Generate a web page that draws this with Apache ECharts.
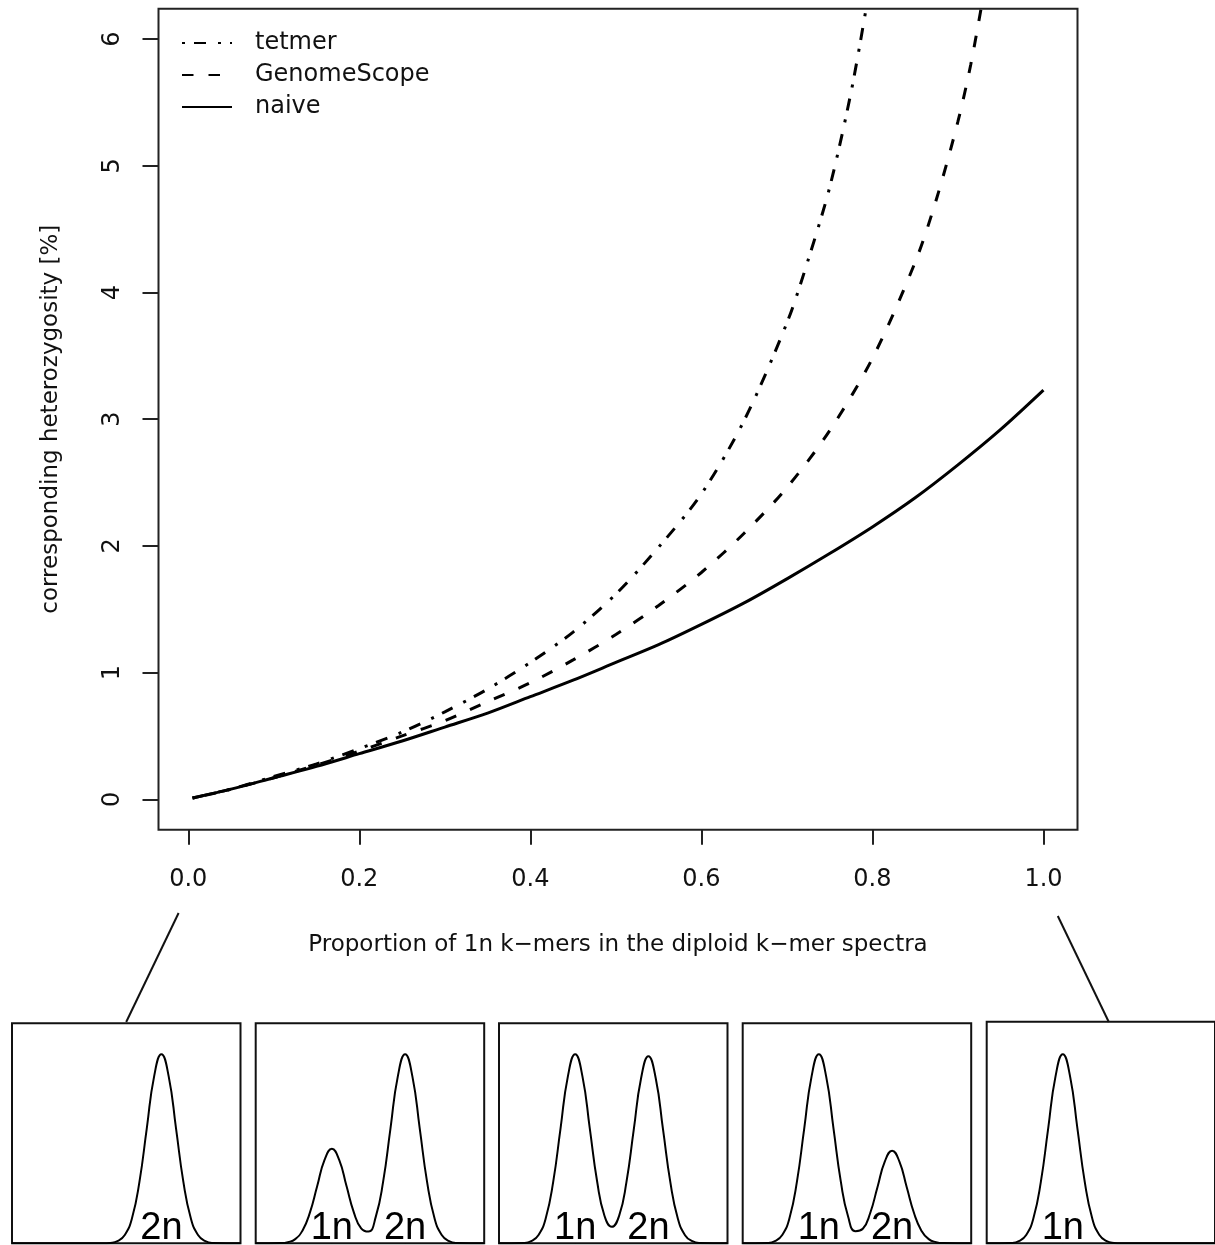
<!DOCTYPE html>
<html>
<head>
<meta charset="utf-8">
<script src="https://cdn.jsdelivr.net/npm/echarts@6/dist/echarts.min.js"></script>
<style>
html,body{margin:0;padding:0;background:#fff;}
#chart{width:1215px;height:1245px;}
</style>
</head>
<body>
<div id="chart"></div>
<script>
// ---------- data ----------
// main plot: proportion of 1n k-mers vs heterozygosity [%]
const naiveProportion = [0.005,0.05,0.1,0.15,0.2,0.25,0.3,0.35,0.4,0.45,0.5,0.55,0.6,0.65,0.7,0.75,0.8,0.85,0.9,0.95,1.0];
const naiveHet        = [0.01,0.08,0.17,0.26,0.36,0.46,0.57,0.68,0.81,0.94,1.08,1.22,1.38,1.55,1.74,1.94,2.15,2.38,2.64,2.92,3.23];

const gsProportion = [0.005,0.05,0.1,0.15,0.2,0.25,0.3,0.35,0.4,0.45,0.5,0.55,0.6,0.65,0.7,0.75,0.8,0.85,0.875,0.9,0.915,0.927];
const gsHet        = [0.01,0.08,0.17,0.27,0.38,0.50,0.62,0.77,0.92,1.10,1.30,1.53,1.79,2.10,2.46,2.91,3.48,4.24,4.74,5.35,5.80,6.24];

const tetProportion = [0.005,0.05,0.1,0.15,0.2,0.25,0.3,0.35,0.4,0.45,0.5,0.55,0.6,0.65,0.7,0.725,0.75,0.775,0.7926];
const tetHet        = [0.01,0.08,0.18,0.28,0.40,0.53,0.69,0.87,1.08,1.32,1.62,1.99,2.41,2.99,3.76,4.26,4.83,5.58,6.24];

const seriesNames = ['tetmer','GenomeScope','naive'];
const xTicks = [0,0.2,0.4,0.6,0.8,1.0];
const yTicks = [0,1,2,3,4,5,6];
const xTitle = 'Proportion of 1n k\u2212mers in the diploid k\u2212mer spectra';
const yTitle = 'corresponding heterozygosity [%]';

// small k-mer spectra panels: coverage (1n = 1) vs relative frequency
const spectrumCoverage = [-0.04,0.3,0.4,0.5,0.6,0.7,0.8,0.9,1.0,1.1,1.2,1.3,1.4,1.5,1.6,1.7,1.8,1.9,2.0,2.1,2.2,2.3,2.4,2.5,2.6,2.7,3.08];
const spectrum1 = [0,0,0,0,0,0,0,0,0,0,0,0.002,0.011,0.044,0.135,0.325,0.607,0.882,1.0,0.882,0.607,0.325,0.135,0.044,0.011,0.002,0];
const spectrum2 = [0,0.001,0.006,0.022,0.068,0.162,0.303,0.441,0.5,0.441,0.303,0.164,0.079,0.062,0.141,0.326,0.607,0.882,1.0,0.882,0.607,0.325,0.135,0.044,0.011,0.002,0];
const spectrum3 = [0,0.002,0.011,0.044,0.135,0.325,0.607,0.882,1.0,0.882,0.607,0.327,0.146,0.087,0.145,0.324,0.601,0.873,0.99,0.873,0.601,0.322,0.134,0.043,0.011,0.002,0];
const spectrum4 = [0,0.002,0.011,0.044,0.135,0.325,0.607,0.882,1.0,0.882,0.607,0.326,0.140,0.064,0.077,0.159,0.297,0.432,0.49,0.432,0.297,0.159,0.067,0.022,0.006,0.001,0];
const spectrum5 = [0,0.002,0.011,0.044,0.135,0.325,0.607,0.882,1.0,0.882,0.607,0.325,0.135,0.044,0.011,0.002,0,0,0,0,0,0,0,0,0,0,0];
const spectra = [spectrum1, spectrum2, spectrum3, spectrum4, spectrum5];
const peakLabelText = [['2n'],['1n','2n'],['1n','2n'],['1n','2n'],['1n']];
const peakLabelAt   = [[2],[1,2],[1,2],[1,2],[1]];

// ---------- chart ----------
const FONT = 'DejaVu Sans';
const INK = '#000';
const chart = echarts.init(document.getElementById('chart'), null, {renderer:'canvas', width:1215, height:1245});

const pairs = (xs, ys) => xs.map((x,i)=>[x, ys[i]]);

// layout (styles, not data)
const mainGrid = {left:158.5, top:8.7, width:919, height:821};
const panelLefts = [12, 255.7, 499, 742.7, 986.7];
const panelTops  = [1023.3, 1023.3, 1023.3, 1023.3, 1021.7];

const grids = [Object.assign({show:true, borderColor:'#222', borderWidth:2, backgroundColor:'transparent'}, mainGrid)];
const xAxes = [{
  type:'value', gridIndex:0, min:-0.0348, max:1.0398,
  axisLine:{show:false, onZero:false},
  splitLine:{show:false},
  axisTick:{show:true, length:15, lineStyle:{color:'#222', width:2}, customValues:xTicks},
  axisLabel:{show:true, margin:38, fontSize:24, fontFamily:FONT, color:'#111', customValues:xTicks, formatter:v=>v.toFixed(1)},
  name:xTitle, nameLocation:'middle', nameGap:104,
  nameTextStyle:{fontSize:23, fontFamily:FONT, color:'#111'}
}];
const yAxes = [{
  type:'value', gridIndex:0, min:-0.24, max:6.24,
  axisLine:{show:false, onZero:false},
  splitLine:{show:false},
  axisTick:{show:true, length:16, lineStyle:{color:'#222', width:2}, customValues:yTicks},
  axisLabel:{show:true, margin:33.5, rotate:90, fontSize:24, fontFamily:FONT, color:'#111', customValues:yTicks, formatter:v=>String(v)},
  name:yTitle, nameLocation:'middle', nameGap:96, nameRotate:90,
  nameTextStyle:{fontSize:23, fontFamily:FONT, color:'#111'}
}];

const series = [
  {name:'tetmer', type:'line', xAxisIndex:0, yAxisIndex:0, data:pairs(tetProportion, tetHet),
   showSymbol:false, symbol:'none', smooth:0.3, clip:true,
   lineStyle:{color:INK, width:3, type:[3,9,12,12]}, itemStyle:{color:INK}},
  {name:'GenomeScope', type:'line', xAxisIndex:0, yAxisIndex:0, data:pairs(gsProportion, gsHet),
   showSymbol:false, symbol:'none', smooth:0.3, clip:true,
   lineStyle:{color:INK, width:3, type:[11.5,15]}, itemStyle:{color:INK}},
  {name:'naive', type:'line', xAxisIndex:0, yAxisIndex:0, data:pairs(naiveProportion, naiveHet),
   showSymbol:false, symbol:'none', smooth:0.3, clip:true,
   lineStyle:{color:INK, width:3, type:'solid'}, itemStyle:{color:INK}}
];

spectra.forEach((spec, i) => {
  const gi = i + 1;
  const top = panelTops[i];
  grids.push({show:true, left:panelLefts[i], top:top, width:228.5, height:1243.3 - top,
              borderColor:'#111', borderWidth:2, backgroundColor:'transparent'});
  xAxes.push({type:'value', gridIndex:gi, min:-0.04, max:3.08, show:false});
  yAxes.push({type:'value', gridIndex:gi, min:0, max:(1243.3 - top)/189, show:false});
  series.push({type:'line', xAxisIndex:gi, yAxisIndex:gi, data:pairs(spectrumCoverage, spec),
               symbol:'none', showSymbol:false, smooth:0.5, clip:true, silent:true,
               lineStyle:{color:INK, width:2}});
  series.push({type:'scatter', xAxisIndex:gi, yAxisIndex:gi, silent:true, symbolSize:0.5,
               itemStyle:{color:INK, opacity:1},
               data:peakLabelAt[i].map((x,j)=>({value:[x,0], name:peakLabelText[i][j]})),
               label:{show:true, position:'top', distance:0, offset:[0,4], formatter:p=>p.name,
                      fontSize:38, fontFamily:'Liberation Sans', color:INK, opacity:1}});
});

const option = {
  animation:false,
  backgroundColor:'#fff',
  grid:grids, xAxis:xAxes, yAxis:yAxes, series:series,
  legend:{
    show:true, orient:'vertical', left:181, top:31, padding:0,
    itemWidth:50, itemHeight:14, itemGap:8, selectedMode:false,
    data:seriesNames,
    itemStyle:{opacity:0, color:'rgba(0,0,0,0)', borderWidth:0},
    textStyle:{fontSize:24, fontFamily:FONT, color:'#111', lineHeight:24, padding:[0,0,0,18]}
  },
  graphic:[
    {type:'line', shape:{x1:178.6, y1:913, x2:126.2, y2:1022}, style:{stroke:'#111', lineWidth:2}, z:100},
    {type:'line', shape:{x1:1057.8, y1:916, x2:1108.8, y2:1022}, style:{stroke:'#111', lineWidth:2}, z:100}
  ]
};
chart.setOption(option);
</script>
</body>
</html>
